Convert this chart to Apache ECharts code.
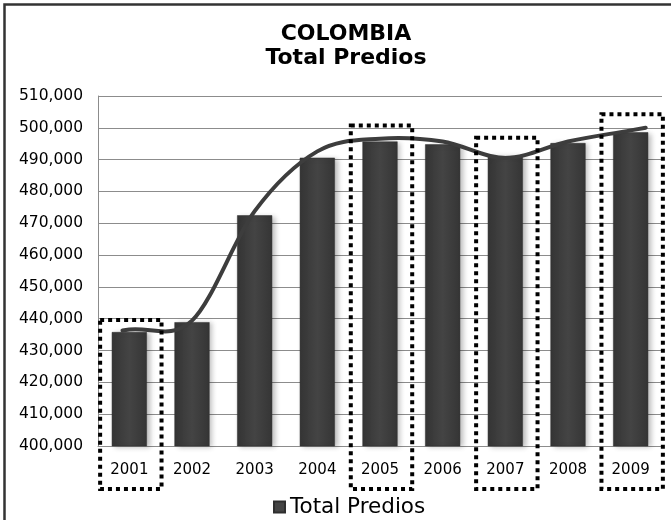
<!DOCTYPE html>
<html>
<head>
<meta charset="utf-8">
<script src="https://cdn.jsdelivr.net/npm/echarts@6/dist/echarts.min.js"></script>
<style>
  html, body { margin: 0; padding: 0; background: #fff; }
  #chart { width: 671px; height: 520px; }
</style>
</head>
<body>
<div id="chart"></div>
<script>
// ---- Data ----
const years = ['2001', '2002', '2003', '2004', '2005', '2006', '2007', '2008', '2009'];
const totalPredios = [435800, 438900, 472500, 490600, 495700, 494800, 491100, 495200, 498600];
const trendValues = [436600, 439400, 473800, 492600, 496600, 495700, 490500, 495700, 499200];
const highlightYears = ['2001', '2005', '2007', '2009'];
const highlightTops = [439600, 500700, 496900, 504300];
const yTicks = { min: 400000, max: 510000, step: 10000 };

const chart = echarts.init(document.getElementById('chart'), null, { renderer: 'canvas' });

const boxData = highlightYears.map((y, i) => [y, highlightTops[i]]);

// smooth trend path (Catmull-Rom style bezier) through the trend values, positioned by the axes
function trendRenderItem(params, api) {
  const pts = trendValues.map((v, i) => api.coord([i, v]));
  const n = pts.length;
  const tan = pts.map((p, i) => {
    const a = pts[Math.max(i - 1, 0)];
    const b = pts[Math.min(i + 1, n - 1)];
    const d = (i === 0 || i === n - 1) ? 1 : 2;
    return [(b[0] - a[0]) / d, (b[1] - a[1]) / d];
  });
  const extStart = 0.11, extEnd = 0.24;
  const s0 = [pts[0][0] - tan[0][0] * extStart, pts[0][1] - tan[0][1] * extStart];
  const eN = [pts[n - 1][0] + tan[n - 1][0] * extEnd, pts[n - 1][1] + tan[n - 1][1] * extEnd];
  let d = 'M' + s0[0] + ' ' + s0[1] + ' L' + pts[0][0] + ' ' + pts[0][1];
  for (let i = 0; i < n - 1; i++) {
    const p = pts[i], q = pts[i + 1];
    const c1 = [p[0] + tan[i][0] / 3, p[1] + tan[i][1] / 3];
    const c2 = [q[0] - tan[i + 1][0] / 3, q[1] - tan[i + 1][1] / 3];
    d += ' C' + c1[0] + ' ' + c1[1] + ' ' + c2[0] + ' ' + c2[1] + ' ' + q[0] + ' ' + q[1];
  }
  d += ' L' + eN[0] + ' ' + eN[1];
  return {
    type: 'path',
    shape: { pathData: d },
    style: { fill: 'none', stroke: '#3d3d3d', lineWidth: 4, lineCap: 'round', lineJoin: 'round' }
  };
}

const option = {
  animation: false,
  backgroundColor: '#ffffff',
  title: {
    text: 'COLOMBIA\nTotal Predios',
    left: 341,
    top: 17,
    textAlign: 'center',
    textStyle: {
      fontFamily: 'DejaVu Sans',
      fontSize: 22,
      fontWeight: 'bold',
      lineHeight: 24,
      color: '#000'
    }
  },
  legend: {
    data: ['Total Predios'],
    left: 268,
    top: 491,
    icon: 'rect',
    itemWidth: 11,
    itemHeight: 11,
    itemGap: 6,
    itemStyle: { color: '#444' },
    textStyle: { fontFamily: 'DejaVu Sans', fontSize: 21.5, color: '#000' }
  },
  grid: { left: 98, right: 9, top: 96, bottom: 74, containLabel: false },
  xAxis: {
    type: 'category',
    data: years,
    axisLine: { show: true, lineStyle: { color: '#8c8c8c', width: 1 } },
    axisTick: { show: false },
    axisLabel: { margin: 17, fontFamily: 'DejaVu Sans', fontSize: 15, color: '#000' }
  },
  yAxis: {
    type: 'value',
    min: yTicks.min,
    max: yTicks.max,
    interval: yTicks.step,
    axisLine: { show: true, lineStyle: { color: '#8c8c8c', width: 1 } },
    axisTick: { show: false },
    splitLine: { show: true, lineStyle: { color: '#8c8c8c', width: 1 } },
    axisLabel: {
      margin: 15,
      fontFamily: 'DejaVu Sans',
      fontSize: 15.5,
      color: '#000',
      formatter: v => v.toLocaleString('en-US')
    }
  },
  graphic: [{
    type: 'rect',
    shape: { x: 4.5, y: 4.5, width: 700, height: 600 },
    style: { fill: 'none', stroke: '#333', lineWidth: 2.5 },
    silent: true,
    z: 100
  }],
  series: [
    {
      name: 'Total Predios',
      type: 'bar',
      data: totalPredios,
      barWidth: '56%',
      itemStyle: {
        color: {
          type: 'linear', x: 0, y: 0, x2: 1, y2: 0,
          colorStops: [
            { offset: 0, color: '#353535' },
            { offset: 0.5, color: '#444444' },
            { offset: 1, color: '#353535' }
          ]
        },
        borderColor: '#2e2e2e',
        borderWidth: 0.5,
        shadowColor: 'rgba(0,0,0,0.25)',
        shadowBlur: 5,
        shadowOffsetX: 3,
        shadowOffsetY: 1
      },
      z: 2
    },
    {
      name: 'Tendencia',
      type: 'custom',
      data: [0],
      clip: false,
      z: 4,
      renderItem: trendRenderItem
    },
    {
      name: 'Resaltado',
      type: 'custom',
      data: boxData,
      clip: false,
      z: 5,
      renderItem: function (params, api) {
        const top = api.coord([api.value(0), api.value(1)]);
        const base = api.coord([api.value(0), yTicks.min]);
        const band = api.size([1, 0])[0];
        const w = band * 0.98;
        return {
          type: 'rect',
          shape: { x: top[0] - w / 2 + 1.5, y: top[1], width: w, height: base[1] + 43 - top[1] },
          style: { fill: 'none', stroke: '#000', lineWidth: 4, lineDash: [4, 4] }
        };
      }
    }
  ]
};

chart.setOption(option);
</script>
</body>
</html>
